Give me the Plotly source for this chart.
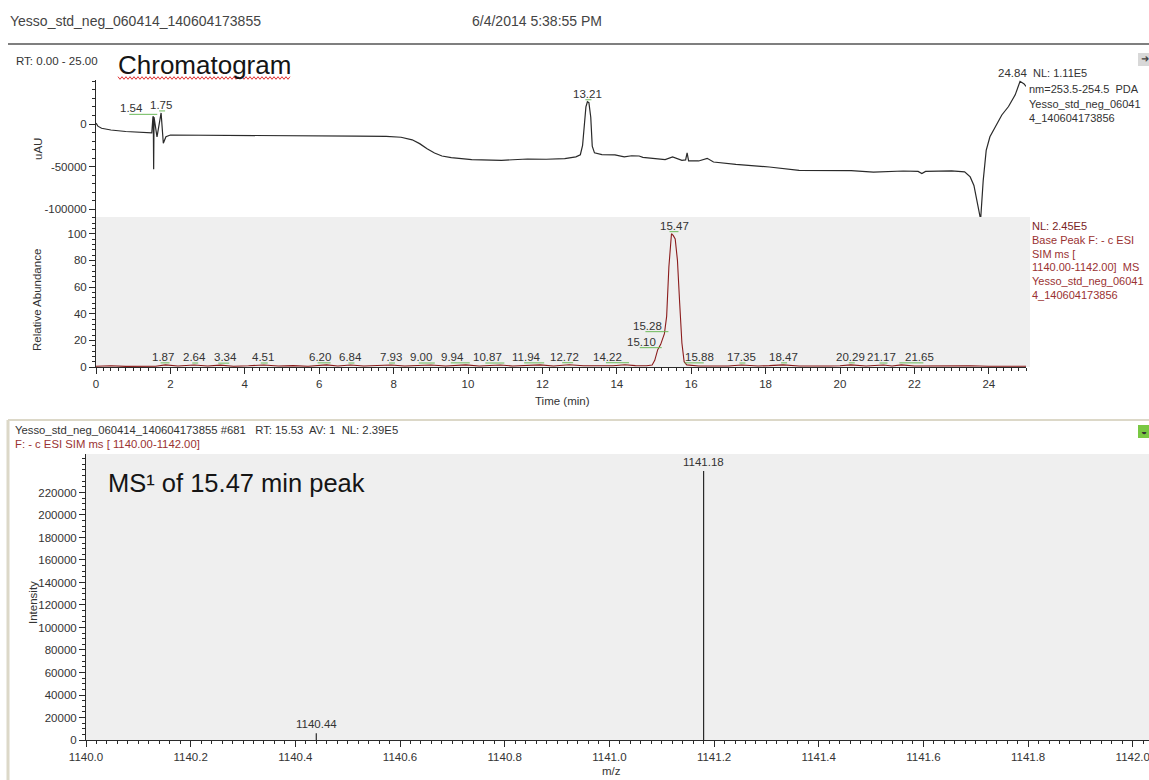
import numpy as np
import plotly.graph_objects as go

W, H = 1149, 780
FONT = "Liberation Sans, Arial, sans-serif"

# ---- PDA chromatogram, nm=253.5-254.5 (uAU) ----
pda_rt = [0.00, 0.05, 0.15, 0.40, 0.80, 1.20, 1.45, 1.50, 1.53, 1.54, 1.55, 1.56, 1.64,
          1.75, 1.81, 1.88, 2.00, 3.0, 4.0, 5.0, 6.0, 7.0, 7.8, 8.2, 8.5, 8.7, 8.9, 9.1,
          9.3, 9.55, 10.1, 10.9, 11.6, 12.1, 12.6, 12.9, 13.02, 13.08, 13.13, 13.17, 13.21,
          13.25, 13.30, 13.34, 13.40, 13.6, 13.95, 14.2, 14.4, 14.6, 14.7, 14.9, 15.3, 15.5,
          15.6, 15.75, 15.85, 15.89, 15.93, 16.2, 16.43, 16.6, 17.2, 18.1, 18.9, 20.3, 20.9,
          21.7, 22.1, 22.2, 22.3, 23.0, 23.35, 23.5, 23.6, 23.7, 23.78, 23.85, 23.93, 24.03,
          24.17, 24.35, 24.53, 24.71, 24.84, 24.95, 25.0]
pda_uau = [1000, -2500, -5000, -7000, -8800, -9800, -10300, -10300, 8000, 9000, -53000, 8000,
           -15000, 13000, -22600, -15000, -12900, -13000, -13300, -13600, -13800, -14200,
           -14500, -15500, -18500, -23000, -29000, -34000, -37500, -39500, -41800, -42600,
           -41000, -41300, -40600, -38500, -36000, -25000, 0, 20000, 26100, 25000, 8000,
           -26000, -33800, -35800, -36200, -38500, -37200, -37500, -39000, -39800, -41800,
           -38500, -40500, -42600, -42000, -33800, -43300, -43300, -40200, -44500, -47300,
           -50400, -54300, -54700, -56300, -55100, -55500, -58000, -55500, -55000, -56000,
           -62000, -72000, -95000, -112000, -66000, -31000, -15000, -3200, 10600, 20500,
           34200, 50000, 47000, 44000]
pda_peak_rt = [1.54, 1.75, 13.21, 24.84]

# ---- Base peak, SIM ms [1140.00-1142.00] (relative abundance) ----
bp_rt = [0.0, 0.4, 0.8, 1.2, 1.6, 1.87, 2.2, 2.64, 3.0, 3.34, 3.7, 4.1, 4.51, 4.9, 5.3, 5.7,
         6.0, 6.20, 6.5, 6.84, 7.2, 7.6, 7.93, 8.3, 8.7, 9.00, 9.4, 9.94, 10.3, 10.87, 11.2,
         11.6, 11.94, 12.3, 12.72, 13.1, 13.5, 13.9, 14.22, 14.5, 14.8, 14.95, 15.02, 15.10,
         15.18, 15.24, 15.28, 15.34, 15.40, 15.47, 15.52, 15.57, 15.63, 15.69, 15.75, 15.81,
         15.88, 16.2, 16.6, 17.0, 17.35, 17.8, 18.1, 18.47, 18.9, 19.3, 19.7, 20.0, 20.29,
         20.7, 21.17, 21.4, 21.65, 22.0, 22.5, 23.0, 23.5, 24.0, 24.5, 25.0]
bp_rel = [0.6, 0.9, 0.5, 0.8, 0.6, 1.6, 0.7, 1.5, 0.8, 1.4, 0.6, 0.9, 1.5, 0.7, 1.0, 0.6,
          0.9, 1.6, 0.8, 1.5, 0.7, 1.0, 1.5, 0.7, 0.9, 1.5, 0.8, 1.6, 0.7, 1.5, 0.8,
          1.0, 1.6, 0.8, 1.7, 0.9, 1.1, 0.9, 1.7, 1.0, 0.9, 1.5, 5.0, 13.0,
          17.0, 21.0, 25.0, 38.0, 75.0, 100.0, 98.5, 96.0, 80.0, 48.0, 18.0, 4.0,
          1.6, 0.8, 1.0, 0.7, 1.5, 0.8, 1.0, 1.6, 0.7, 1.0, 0.8, 0.9, 1.6,
          0.8, 1.5, 0.8, 1.6, 0.8, 1.0, 0.7, 0.9, 0.6, 0.8, 0.6]
bp_peak_rt = [1.87, 2.64, 3.34, 4.51, 6.20, 6.84, 7.93, 9.00, 9.94, 10.87, 11.94, 12.72,
              14.22, 15.10, 15.28, 15.47, 15.88, 17.35, 18.47, 20.29, 21.17, 21.65]

# ---- MS1 spectrum of the 15.47 min peak ----
ms_mz = [1140.44, 1141.18]
ms_int = [6000, 239000]

# label offsets (pixels) where the labels are pushed sideways
pda_label_dx = {1.54: -22, 24.84: -8}
bp_label_dx = {1.87: -3, 3.34: 5, 4.51: -1, 6.20: -7, 9.00: -10, 9.94: -13, 10.87: -13,
               11.94: -14, 12.72: -5, 14.22: -17, 15.10: -16, 15.28: -17, 15.47: 3,
               15.88: 13, 21.17: -2, 21.65: 18}

INK = "#2a2a2a"
TXT = "#333333"
RED = "#8b1c1c"
RED_TXT = "#9a3232"
GREEN = "#6cba5a"
PANEL = "#efefef"


def px(x):
    return x / W


def py(y):
    return 1 - y / H


fig = go.Figure()

fig.add_trace(go.Scatter(x=pda_rt, y=pda_uau, xaxis="x2", yaxis="y2", mode="lines",
                         line=dict(color=INK, width=1.2), hoverinfo="skip"))
fig.add_trace(go.Scatter(x=bp_rt, y=bp_rel, xaxis="x", yaxis="y", mode="lines",
                         line=dict(color=RED, width=1.1), hoverinfo="skip"))

stick_x, stick_y = [], []
for m, i in zip(ms_mz, ms_int):
    stick_x += [m, m, None]
    stick_y += [0, i, None]
fig.add_trace(go.Scatter(x=stick_x, y=stick_y, xaxis="x3", yaxis="y3", mode="lines",
                         line=dict(color=INK, width=1.2), hoverinfo="skip"))

annotations = []
shapes = []


def text(x, y, s, size=11.5, color=TXT, xanchor="left", angle=0):
    annotations.append(dict(xref="paper", yref="paper", x=px(x), y=py(y), text=s,
                            showarrow=False, xanchor=xanchor, yanchor="middle",
                            textangle=angle, font=dict(family=FONT, size=size, color=color)))


def peak_label(rt, val, xr, yr, dx):
    annotations.append(dict(xref=xr, yref=yr, x=rt, y=val, text=f"{rt:.2f}",
                            showarrow=False, xanchor="center", yanchor="bottom",
                            xshift=dx, yshift=1, borderpad=0,
                            font=dict(family=FONT, size=11.5, color=TXT)))
    shapes.append(dict(type="line", xref=xr, yref=yr, xsizemode="pixel", ysizemode="pixel",
                       xanchor=rt, yanchor=val, x0=min(0, dx) - 2, x1=max(0, dx) + 4,
                       y0=2, y1=2, line=dict(color=GREEN, width=1)))


for rt in pda_peak_rt:
    peak_label(rt, float(np.interp(rt, pda_rt, pda_uau)), "x2", "y2", pda_label_dx.get(rt, 0))
for rt in bp_peak_rt:
    peak_label(rt, float(np.interp(rt, bp_rt, bp_rel)), "x", "y", bp_label_dx.get(rt, 0))

for m, i in zip(ms_mz, ms_int):
    annotations.append(dict(xref="x3", yref="y3", x=m, y=i, text=f"{m:.2f}", showarrow=False,
                            xanchor="center", yanchor="bottom", yshift=2, borderpad=0,
                            font=dict(family=FONT, size=11.5, color=TXT)))

# page header
text(8, 21, "Yesso_std_neg_060414_140604173855", size=14, color="#444")
text(470, 21, "6/4/2014 5:38:55 PM", size=14, color="#444")
shapes.append(dict(type="line", xref="paper", yref="paper", x0=px(8), x1=1, y0=py(44), y1=py(44),
                   line=dict(color="#555", width=1.5)))

# chromatogram panel texts
text(14, 61, "RT: 0.00 - 25.00", size=11.5)
text(116, 65, "Chromatogram", size=26, color="#151515")
wave = []
for k, xx in enumerate(np.arange(118, 292, 2.0)):
    wave.append(("M" if k == 0 else "L") + f"{px(xx):.5f},{py(78 + (1.3 if k % 2 else -1.3)):.5f}")
shapes.append(dict(type="path", xref="paper", yref="paper", path=" ".join(wave),
                   line=dict(color="#e03030", width=1)))
text(1031, 73, "NL: 1.11E5", size=11)
text(1027, 89, "nm=253.5-254.5  PDA", size=11)
text(1027, 104, "Yesso_std_neg_06041", size=11)
text(1027, 118, "4_140604173856", size=11)
text(38, 149, "uAU", angle=-90, xanchor="center")

# base peak panel texts
bp_lines = ["NL: 2.45E5", "Base Peak F: - c ESI", "SIM ms [", "1140.00-1142.00]  MS",
            "Yesso_std_neg_06041", "4_140604173856"]
for k, s in enumerate(bp_lines):
    text(1030, 226 + 13.8 * k, s, size=11, color="#7a2424" if k == 0 else RED_TXT)
text(37, 300, "Relative Abundance", angle=-90, xanchor="center")
text(562, 401, "Time (min)", xanchor="center")

# spectrum panel frame and texts
shapes.append(dict(type="line", xref="paper", yref="paper", x0=px(8), x1=1, y0=py(420), y1=py(420),
                   line=dict(color="#dcd8c8", width=2)))
shapes.append(dict(type="line", xref="paper", yref="paper", x0=px(8), x1=px(8), y0=0, y1=py(420),
                   line=dict(color="#dcd8c8", width=3)))
text(13, 430, "Yesso_std_neg_060414_140604173855 #681   RT: 15.53  AV: 1  NL: 2.39E5", size=11.3)
text(13, 444, "F: - c ESI SIM ms [ 1140.00-1142.00]", size=11.3, color=RED_TXT)
text(106, 483, "MS\u00b9 of 15.47 min peak", size=25.5, color="#151515")
text(33, 603, "Intensity", angle=-90, xanchor="center")
text(611, 771, "m/z", xanchor="center")

# small toolbar icons
shapes.append(dict(type="rect", xref="paper", yref="paper", x0=px(1138), x1=1, y0=py(66), y1=py(53),
                   fillcolor="#d8d8d8", line=dict(width=0)))
shapes.append(dict(type="rect", xref="paper", yref="paper", x0=px(1138), x1=1, y0=py(438), y1=py(425),
                   fillcolor="#79c843", line=dict(width=0)))
text(1139, 59, "\u279c", size=10, color="#444")
text(1139, 431, "\u25d2", size=10, color="#333")

# panel backgrounds
shapes.append(dict(type="rect", xref="paper", yref="paper", x0=px(96), x1=px(1030), y0=py(367), y1=py(217),
                   fillcolor=PANEL, line=dict(width=0), layer="below"))
shapes.append(dict(type="rect", xref="paper", yref="paper", x0=px(86), x1=1, y0=py(740), y1=py(454),
                   fillcolor=PANEL, line=dict(width=0), layer="below"))

tickfont = dict(family=FONT, size=11.5, color=TXT)
common = dict(showgrid=False, zeroline=False, showline=True, linecolor=INK, linewidth=1,
              ticks="outside", ticklen=6, tickcolor=INK, tickfont=tickfont, fixedrange=True,
              automargin=False, ticklabeloverflow="allow")

fig.update_layout(
    width=W, height=H, margin=dict(l=0, r=0, t=0, b=0, autoexpand=False),
    paper_bgcolor="white", plot_bgcolor="rgba(0,0,0,0)", showlegend=False,
    xaxis=dict(domain=[px(96), px(1026)], range=[0, 25], anchor="y",
               tickvals=list(range(0, 25, 2)), minor=dict(dtick=0.2, ticklen=3, ticks="outside", tickcolor=INK),
               **common),
    yaxis=dict(domain=[py(367), py(217)], range=[0, 112.5], anchor="x",
               tickvals=list(range(0, 101, 20)), minor=dict(dtick=4, ticklen=3, ticks="outside", tickcolor=INK),
               **common),
    xaxis2=dict(domain=[px(96), px(1026)], range=[0, 25], anchor="y2", visible=False, automargin=False),
    yaxis2=dict(domain=[py(217), py(80)], range=[-109000, 51600], anchor="x2",
                tickvals=[0, -50000, -100000], ticktext=["0", "-50000", "-100000"],
                minor=dict(dtick=10000, ticklen=3, ticks="outside", tickcolor=INK), **common),
    xaxis3=dict(domain=[px(86), 1], range=[1140.0, 1142.031], anchor="y3",
                tickvals=[round(1140 + 0.2 * k, 1) for k in range(11)], tickformat=".1f",
                minor=dict(dtick=0.02, ticklen=3, ticks="outside", tickcolor=INK), **common),
    yaxis3=dict(domain=[py(740), py(454)], range=[0, 254200], anchor="x3",
                tickvals=list(range(0, 220001, 20000)), tickformat="d",
                minor=dict(dtick=5000, ticklen=3, ticks="outside", tickcolor=INK), **common),
    annotations=annotations, shapes=shapes,
)

fig.write_html("out.html", config={"displayModeBar": False, "staticPlot": True})
